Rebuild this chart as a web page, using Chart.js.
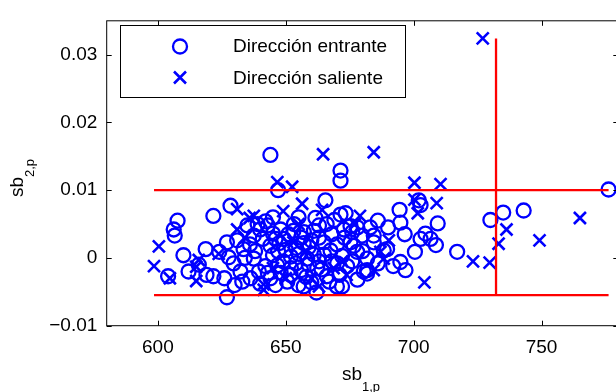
<!DOCTYPE html>
<html>
<head>
<meta charset="utf-8">
<script src="https://cdn.jsdelivr.net/npm/chart.js@4.4.1/dist/chart.umd.min.js"></script>
<style>
    body { margin: 0; background: #fff; overflow: hidden; }
    #wrap { width: 616px; height: 392px; overflow: hidden; }
</style>
</head>
<body>
<div id="wrap"><canvas id="chart" width="630" height="392"></canvas></div>
<script>
// Dirección entrante (circles)
const inX = [644, 671.4, 671.4, 647, 665.5, 628.4, 621.7, 607.7, 606.2, 606.6, 610, 604, 627, 618.7, 616, 621.7, 627, 662, 670, 664,
    776.2, 743, 735, 730, 717, 709.4, 708.7, 704.6, 702, 694.5, 694.8, 696.5, 694.8, 696.8, 700.5, 702.7, 681.8, 689.6, 684.4, 673.4,
    675.3, 676.6, 672, 624, 627.7, 631, 633.5, 629.6, 632.3, 636.2, 637.5, 642.1, 640, 653.2, 661.6, 671.4, 672.7, 679.8, 661, 664.9,
    649.3, 644, 646.7, 651.9, 644, 658.4, 662.3, 670.1, 677.9, 680.5, 655.1, 667.5, 675.3, 637.5, 648, 657.1, 650.6, 639.5, 702.7, 706.6,
    688.3, 681.8, 681.8, 684.4, 643, 645, 647.5, 650, 652, 654, 656, 658, 660, 648, 642, 645, 656, 659, 661, 663,
    666, 668, 670, 672, 674, 676, 678, 666, 669, 635, 633, 640, 655, 646, 653, 660, 686, 690, 692, 686,
    612, 630, 636, 638, 641, 643, 647, 649, 651, 652, 654, 657, 659, 663, 665, 667, 668, 671, 673, 676,
    678, 680, 683, 657, 646, 639, 663, 634, 626, 619, 655, 645];
const inY = [0.0152, 0.0129, 0.0114, 0.0100, 0.0085, 0.0077, 0.0062, 0.0055, 0.0042, 0.0033, 0.0004, -0.0027, -0.0058, 0.0013, -0.0010, -0.0027, 0.0023, -0.0051, -0.0042, -0.0017,
    0.0101, 0.0070, 0.0067, 0.0056, 0.0009, 0.0051, 0.0019, 0.0036, 0.0085, 0.0071, 0.0052, 0.0035, -0.0006, -0.0018, 0.0009, 0.0028, -0.0023, 0.0013, 0.0033, 0.0066,
    0.0047, 0.0018, -0.0042, 0.0009, 0.0001, 0.0026, 0.0013, -0.0008, -0.0020, -0.0030, -0.0001, 0.0054, 0.0042, 0.0050, 0.0059, 0.0064, 0.0042, 0.0033, 0.0040, 0.0023,
    0.0028, 0.0018, -0.0011, -0.0025, -0.0030, -0.0001, -0.0015, -0.0008, 0.0009, -0.0020, 0.0006, 0.0011, 0.0023, 0.0033, 0.0042, 0.0038, -0.0035, -0.0020, 0.0078, 0.0028,
    0.0011, -0.0001, -0.0018, 0.0023, 0.0048, 0.0036, 0.0022, 0.0012, 0.0002, -0.0008, -0.0018, -0.0028, -0.0036, -0.0022, -0.0012, 0.0004, 0.0030, 0.0016, 0.0005, -0.0005,
    -0.0027, 0.0035, 0.0020, 0.0003, -0.0012, 0.0038, -0.0032, 0.0050, 0.0056, 0.0048, -0.0035, -0.0038, -0.0040, -0.0040, 0.0040, 0.0026, -0.0008, 0.0045, -0.0012, 0.0055,
    -0.0020, -0.0040, 0.0020, 0.0010, 0.0028, -0.0022, 0.0010, -0.0005, 0.0035, -0.0015, 0.0015, 0.0022, -0.0010, 0.0030, 0.0005, -0.0035, -0.0005, -0.0025, 0.0030, -0.0005,
    0.0045, 0.0010, 0.0045, -0.0042, 0.0028, 0.0050, 0.0048, 0.0000, -0.0030, -0.0025, 0.0060, 0.0060];

// Dirección saliente (crosses)
const outX = [727, 664.6, 684.4, 646.7, 652.5, 700.3, 710.5, 700.3, 709, 656.4, 649, 664.2, 631, 635.9, 637.5, 701.6, 679, 631, 634, 600.4,
    598.5, 604.7, 615, 615, 616, 623.8, 641.3, 641.4, 663, 668.7, 673.8, 653, 684.4, 687, 690.3, 688.3, 704.2, 723.2, 729.7, 733.2,
    736.3, 749.2, 765, 645, 658, 672, 650, 660, 677, 655];
const outY = [0.0324, 0.0153, 0.0156, 0.0112, 0.0105, 0.0111, 0.0109, 0.0086, 0.0081, 0.0080, 0.0069, 0.0071, 0.0072, 0.0059, 0.0062, 0.0066, 0.0062, 0.0042, 0.0030, 0.0017,
    -0.0012, -0.0030, -0.0034, -0.0013, -0.0003, 0.0006, -0.0039, -0.0047, -0.0042, -0.0015, -0.0025, 0.0023, -0.0018, 0.0009, 0.0026, -0.0001, -0.0036, -0.0005, -0.0007, 0.0021,
    0.0042, 0.0026, 0.0059, -0.0015, 0.0010, -0.0005, -0.0030, -0.0030, 0.0050, 0.0050];

// Threshold lines
const upperLimit = 0.01;
const lowerLimit = -0.0055;
const xLimit = 732.2;

const xTicks = [600, 650, 700, 750];
const yTicks = [-0.01, 0, 0.01, 0.02, 0.03];
const seriesLabels = ['Dirección entrante', 'Dirección saliente'];

const FONT = '"Liberation Sans", Arial, Helvetica, sans-serif';
const BLUE = '#0000ff';
const RED = '#ff0000';

function toPoints(xs, ys) {
    return xs.map((x, i) => ({ x: x, y: ys[i] }));
}

const allX = inX.concat(outX);
const allY = inY.concat(outY);
const xMin = Math.min(...allX);
const xMax = Math.max(...allX);
const yMax = Math.max(...allY);

function formatY(v) {
    if (v === 0) return '0';
    return (v < 0 ? '\u2212' : '') + Math.abs(v).toFixed(2);
}

function drawCircle(ctx, x, y) {
    ctx.beginPath();
    ctx.arc(x, y, 7, 0, Math.PI * 2);
    ctx.stroke();
}

function drawX(ctx, x, y) {
    const r = 6;
    ctx.beginPath();
    ctx.moveTo(x - r, y - r);
    ctx.lineTo(x + r, y + r);
    ctx.moveTo(x - r, y + r);
    ctx.lineTo(x + r, y - r);
    ctx.stroke();
}

// box, inward ticks, legend and axis titles (MATLAB look)
const decorations = {
    id: 'decorations',
    afterDraw(chart) {
        const ctx = chart.ctx;
        const area = chart.chartArea;
        const xs = chart.scales.x;
        const ys = chart.scales.y;

        ctx.save();
        ctx.strokeStyle = '#000';
        ctx.lineWidth = 1;
        ctx.strokeRect(area.left, area.top, area.right - area.left, area.bottom - area.top);

        ctx.beginPath();
        xTicks.forEach(v => {
            const px = Math.round(xs.getPixelForValue(v)) + 0.5;
            ctx.moveTo(px, area.bottom);
            ctx.lineTo(px, area.bottom - 5);
            ctx.moveTo(px, area.top);
            ctx.lineTo(px, area.top + 5);
        });
        yTicks.forEach(v => {
            const py = Math.round(ys.getPixelForValue(v)) + 0.5;
            ctx.moveTo(area.left, py);
            ctx.lineTo(area.left + 5, py);
            ctx.moveTo(area.right, py);
            ctx.lineTo(area.right - 5, py);
        });
        ctx.stroke();

        // legend
        ctx.fillStyle = '#fff';
        ctx.fillRect(120, 25, 285, 72);
        ctx.strokeStyle = '#000';
        ctx.strokeRect(120.5, 25.5, 285, 72);

        ctx.strokeStyle = BLUE;
        ctx.lineWidth = 2.3;
        drawCircle(ctx, 180, 46.5);
        ctx.lineWidth = 2.6;
        drawX(ctx, 180, 77.5);

        ctx.fillStyle = '#000';
        ctx.font = '19px ' + FONT;
        ctx.textBaseline = 'middle';
        ctx.textAlign = 'left';
        ctx.fillText(seriesLabels[0], 233, 47);
        ctx.fillText(seriesLabels[1], 233, 79);

        // axis titles
        ctx.textBaseline = 'alphabetic';
        ctx.font = '19px ' + FONT;
        ctx.fillText('sb', 342, 380);
        ctx.font = '13px ' + FONT;
        ctx.fillText('1,p', 362, 391);

        ctx.translate(23, 197);
        ctx.rotate(-Math.PI / 2);
        ctx.font = '19px ' + FONT;
        ctx.fillText('sb', 0, 0);
        ctx.font = '13px ' + FONT;
        ctx.fillText('2,p', 20, 11);
        ctx.restore();
    }
};

new Chart(document.getElementById('chart'), {
    type: 'scatter',
    data: {
        datasets: [
            {
                type: 'line',
                data: [{ x: xMin, y: upperLimit }, { x: xMax, y: upperLimit }],
                borderColor: RED, borderWidth: 2.3, pointRadius: 0, order: 0
            },
            {
                type: 'line',
                data: [{ x: xMin, y: lowerLimit }, { x: xMax, y: lowerLimit }],
                borderColor: RED, borderWidth: 2.3, pointRadius: 0, order: 0
            },
            {
                type: 'line',
                data: [{ x: xLimit, y: lowerLimit }, { x: xLimit, y: yMax }],
                borderColor: RED, borderWidth: 2.3, pointRadius: 0, order: 0
            },
            {
                label: seriesLabels[0],
                data: toPoints(inX, inY),
                pointStyle: 'circle',
                pointRadius: 7,
                borderWidth: 2.3,
                borderColor: BLUE,
                backgroundColor: 'rgba(0,0,0,0)',
                order: 2
            },
            {
                label: seriesLabels[1],
                data: toPoints(outX, outY),
                pointStyle: 'crossRot',
                pointRadius: 8.5,
                borderWidth: 2.6,
                borderColor: BLUE,
                backgroundColor: BLUE,
                order: 1
            }
        ]
    },
    options: {
        responsive: false,
        animation: false,
        layout: { padding: { top: 13.3, right: 11.7, left: 0, bottom: 0 } },
        plugins: {
            legend: { display: false },
            tooltip: { enabled: false }
        },
        scales: {
            x: {
                type: 'linear',
                min: 580,
                max: 780,
                afterBuildTicks: s => { s.ticks = xTicks.map(v => ({ value: v })); },
                afterFit: s => { s.height = 66.3; },
                grid: { display: false, drawTicks: false },
                border: { display: false },
                ticks: {
                    color: '#000',
                    padding: 11,
                    maxRotation: 0,
                    font: { family: FONT, size: 19 },
                    callback: v => String(v)
                }
            },
            y: {
                type: 'linear',
                min: -0.01,
                max: 0.035,
                afterBuildTicks: s => { s.ticks = yTicks.map(v => ({ value: v })); },
                afterFit: s => { s.width = 106.7; },
                grid: { display: false, drawTicks: false },
                border: { display: false },
                ticks: {
                    color: '#000',
                    padding: 9.4,
                    font: { family: FONT, size: 19 },
                    callback: v => formatY(v)
                }
            }
        }
    },
    plugins: [decorations]
});
</script>
</body>
</html>
